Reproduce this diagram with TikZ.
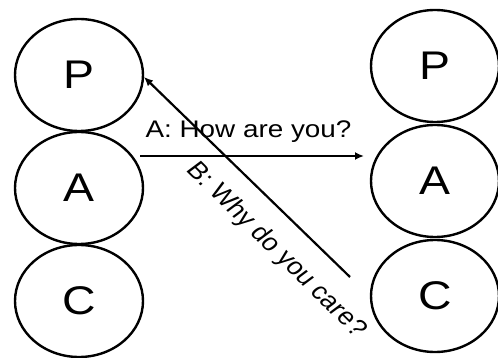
\documentclass[tikz,border=0pt]{standalone}
\usepackage{fontspec}
\setmainfont{Liberation Sans}
\usepackage{graphicx}
\usetikzlibrary{shapes.geometric,arrows.meta}
\begin{document}
\begin{tikzpicture}[x=1pt,y=-1pt,
  ring/.style={ellipse,draw,line width=2.4pt,minimum width=128pt,minimum height=112pt,inner sep=0pt,font=\fontsize{40}{40}\selectfont},
  conn/.style={line width=2.2pt,-{Latex[length=9pt,width=8pt]}},
  lbl/.style={font=\fontsize{24}{24}\selectfont,inner sep=0pt,xscale=1.16}]
\useasboundingbox (0,0) rectangle (498,358);
\fill[white] (0,0) rectangle (498,358);
\node[ring] (lP) at (79,75) {\scalebox{1.16}[1]{P}};
\node[ring] (lA) at (79,188) {\scalebox{1.16}[1]{A}};
\node[ring] (lC) at (79,301) {\scalebox{1.16}[1]{C}};
\node[ring] (rP) at (435,66) {\scalebox{1.16}[1]{P}};
\node[ring] (rA) at (435,181) {\scalebox{1.16}[1]{A}};
\node[ring] (rC) at (435,296) {\scalebox{1.16}[1]{C}};
\coordinate (aS) at (140,156);
\coordinate (aE) at (364,156);
\draw[conn] (aS) -- (aE);
\coordinate (bS) at (350,277);
\coordinate (bE) at (144,77);
\draw[conn] (bS) -- (bE);
\node[lbl,anchor=base] (la) at (248.5,138) {A: How are you?};
\node[lbl,rotate=-49] (lb) at (276,250) {B: Why do you care?};
\end{tikzpicture}
\end{document}
